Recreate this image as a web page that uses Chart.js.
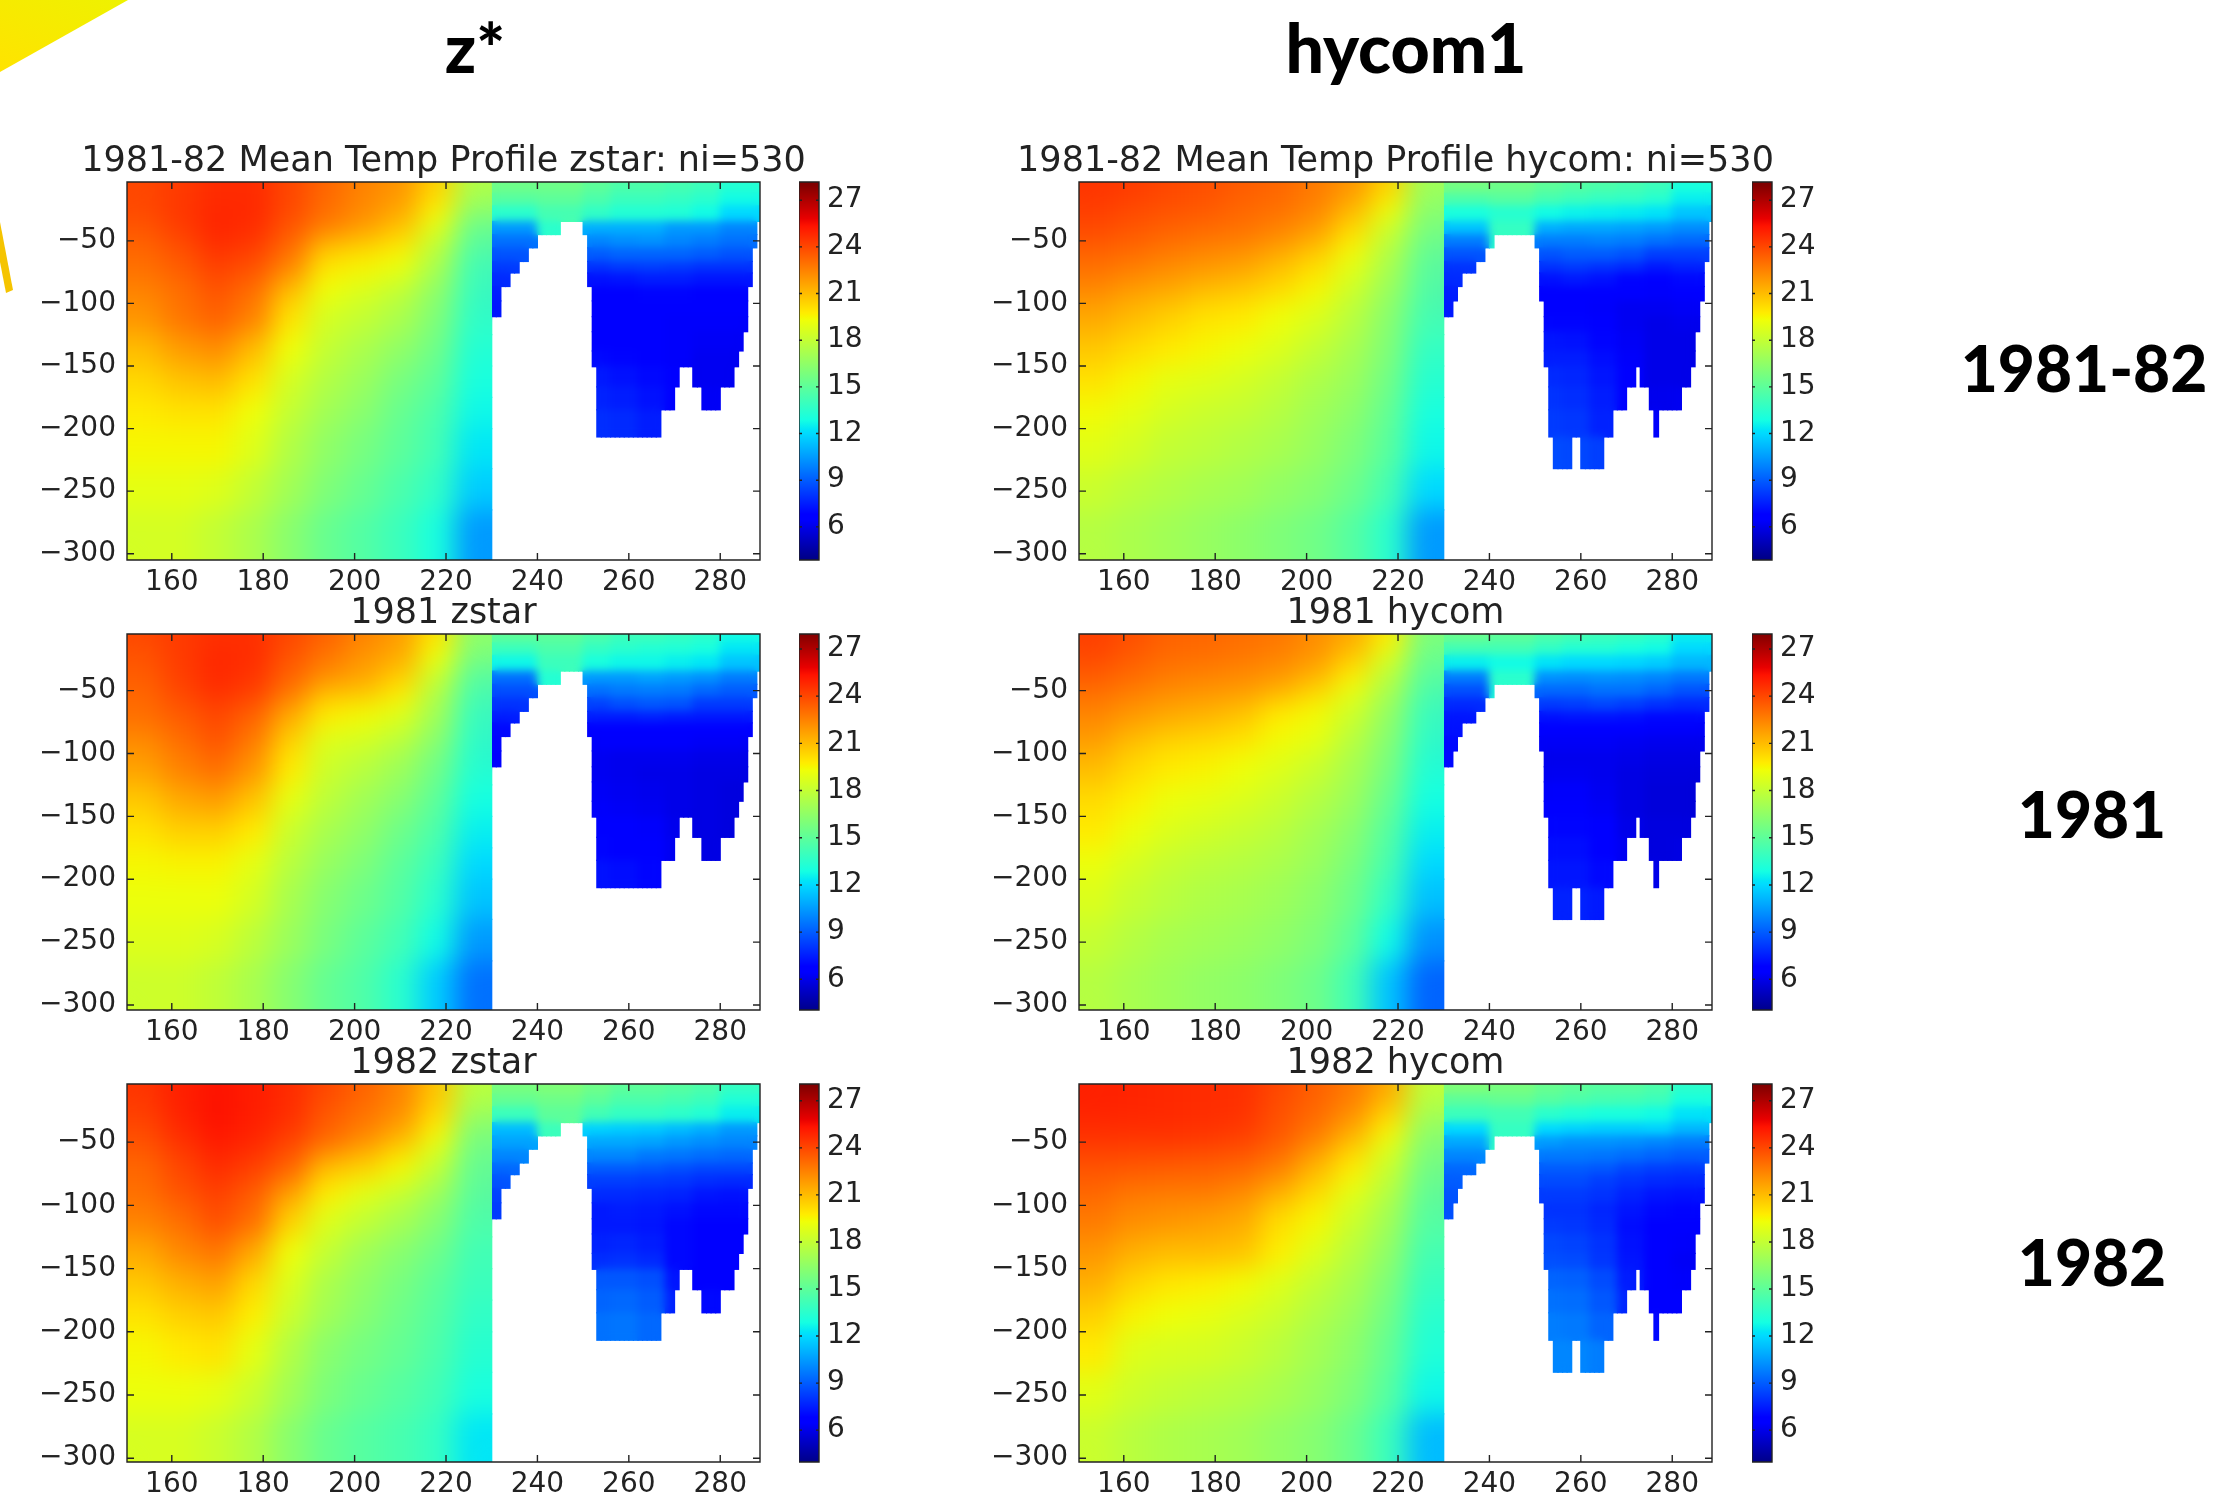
<!DOCTYPE html>
<html><head><meta charset="utf-8">
<style>
html,body{margin:0;padding:0;background:#fff;width:2218px;height:1498px;overflow:hidden}
canvas{position:absolute}
.big{position:absolute;font-family:Lato,sans-serif;font-weight:900;color:#000;line-height:1;transform:translateX(-50%);white-space:nowrap}
svg{position:absolute;left:0;top:0}
</style>
<script src="https://cdn.jsdelivr.net/npm/chart.js@4"></script>
</head><body>
<svg width="140" height="310"><defs><linearGradient id="sun" x1="1" y1="0" x2="0" y2="1"><stop offset="0" stop-color="#eef200"/><stop offset="1" stop-color="#ffe300"/></linearGradient></defs><polygon points="0,0 128,0 0,72" fill="url(#sun)"/><polygon points="0,222 13,290 6,293 0,262" fill="#f5c400"/></svg>
<div class="big" style="left:475px;top:13px;font-size:68px">z*</div>
<div class="big" style="left:1406px;top:13px;font-size:68px">hycom1</div>
<div class="big" style="left:2084px;top:336px;font-size:64px">1981-82</div>
<div class="big" style="left:2092px;top:782px;font-size:64px">1981</div>
<div class="big" style="left:2092px;top:1230px;font-size:64px">1982</div>
<script>
const _ = null;
const xTicks = [160,180,200,220,240,260,280];
const yTicks = [-50,-100,-150,-200,-250,-300];
const colorbarTicks = [6,9,12,15,18,21,24,27];
const panelTitles = [
  '1981-82 Mean Temp Profile zstar: ni=530','1981-82 Mean Temp Profile hycom: ni=530',
  '1981 zstar','1981 hycom','1982 zstar','1982 hycom'];

const westLon = [154,162,170,178,186,194,202,210,218,226];
const westDepthEdges = [0,-15,-30,-45,-60,-80,-100,-125,-150,-175,-200,-232,-265,-310];
const eastLon = [230.5,231.5,232.5,233.5,234.5,235.5,236.5,237.5,238.5,239.5,240.5,241.5,242.5,243.5,244.5,245.5,246.5,247.5,248.5,249.5,250.5,251.5,252.5,253.5,254.5,255.5,256.5,257.5,258.5,259.5,260.5,261.5,262.5,263.5,264.5,265.5,266.5,267.5,268.5,269.5,270.5,271.5,272.5,273.5,274.5,275.5,276.5,277.5,278.5,279.5,280.5,281.5,282.5,283.5,284.5,285.5,286.5,287.5,288.5];
const eastDepthEdges = [0,-12,-22,-34.5,-45,-55.6,-66.5,-75.7,-86.5,-98,-110.6,-122.6,-138,-150.6,-166.7,-185,-206.7,-232];
const eastGroupStart = [230,240,250,256,262,268,274,280];
const bottomZstar = [-110.6,-110.6,-86.5,-86.5,-75.7,-75.7,-66.5,-66.5,-55.6,-55.6,-45,-45,-45,-45,-45,-34.5,-34.5,-34.5,-34.5,-34.5,-45,-86.5,-150.6,-206.7,-206.7,-206.7,-206.7,-206.7,-206.7,-206.7,-206.7,-206.7,-206.7,-206.7,-206.7,-206.7,-206.7,-185,-185,-185,-166.7,-150.6,-150.6,-150.6,-166.7,-166.7,-185,-185,-185,-185,-166.7,-166.7,-166.7,-150.6,-138,-122.6,-86.5,-55.6,-34.5];
const bottomHycom = [-110.6,-110.6,-98,-86.5,-75.7,-75.7,-75.7,-66.5,-66.5,-55.6,-55.6,-45,-45,-45,-45,-45,-45,-45,-45,-45,-55.6,-98,-150.6,-206.7,-232,-232,-232,-232,-206.7,-206.7,-232,-232,-232,-232,-232,-206.7,-206.7,-185,-185,-185,-166.7,-166.7,-150.6,-166.7,-166.7,-185,-206.7,-185,-185,-185,-185,-185,-166.7,-166.7,-150.6,-122.6,-98,-66.5,-34.5];

const westZstarMean = [
[24,24.3,24.7,24.7,24,23.2,22.5,22,20.5,17.5],
[24,24.4,24.8,24.8,24,23,22.3,21.7,19.8,16.8],
[23.7,24.3,24.9,24.7,23.7,22.8,22,21,19,15.5],
[23.3,23.9,24.7,24.4,23.2,21.2,20.7,20,18,15],
[23,23.5,24.2,23.8,22.5,20,19.6,19.2,17.3,14.3],
[22.5,23,23.7,23,21,19.3,18.7,18,16.5,14],
[22,22.8,23.3,22.5,20,18.5,18,17.3,16,13.7],
[21,21.8,22.2,21,19.3,18,17.3,16.5,15.5,13.3],
[20.3,20.8,21,20,18.5,17.5,16.8,15.8,15,13],
[19.8,20,20,19.3,18,17,16.3,15.3,14.5,12.7],
[19.5,19.5,19.5,18.8,17.5,16.5,15.8,15,14.2,12.3],
[19,19,18.8,18,17,16,15.3,14.5,13.7,11.7],
[18.5,18.5,18,17.3,16.3,15.3,14.7,14,13,10.5]];
const westZstar1981 = [
[24,24.3,24.6,24.6,24,23.3,22.5,21.8,20,16.5],
[23.7,24.3,24.8,24.7,23.7,22.8,22,21.5,19.3,16],
[23.5,24.2,24.8,24.5,23.3,22.3,21.7,20.7,18.3,15],
[23.2,24,24.6,24.2,22.8,21,20.8,19.8,17.5,14.5],
[23,23.5,24,23.3,21.5,19.8,19.4,18.8,17,14],
[22.3,23,23.7,22.7,20.5,18.8,18.5,17.8,16.3,13.7],
[21.7,22.5,23,22,19.8,18.3,17.7,16.9,15.6,13.4],
[20.7,21.5,21.8,20.8,19,17.8,17,16.2,15,12.9],
[20,20.5,20.5,19.8,18.2,17.2,16.5,15.5,14.5,12.5],
[19.5,19.6,19.6,19,17.7,16.7,16,15,14,12],
[19.2,19.2,19.2,18.5,17.2,16.2,15.5,14.7,13.5,11.5],
[18.8,18.8,18.6,17.8,16.8,15.8,15,14.2,12.8,10.5],
[18.3,18.3,17.9,17.2,16.2,15.2,14.6,13.5,11.7,9.5]];
const westZstar1982 = [
[24.5,25,25.3,25.1,24.7,24,23.3,22.5,20.8,17.8],
[24.3,25,25.4,25.1,24.7,23.7,23,22.3,20.5,17.3],
[24,24.8,25.3,25,24.5,23.4,22.7,21.8,19.8,16.3],
[23.7,24.5,25.1,24.8,24,23,22,20.8,19,15.8],
[23.2,24,24.7,24.2,23.3,21,20.5,19.5,18,15.3],
[23,23.7,24.2,23.5,21.8,19.8,19,18.2,17,15],
[22.5,23,23.8,23,20.5,18.8,18,17.2,16.2,14.6],
[21.5,22.3,22.8,21.5,19.3,18,17,16.3,15.5,14.2],
[20.7,21.3,21.7,20.3,18.7,17.3,16.5,15.8,15,14],
[20,20.5,20.7,19.7,18.2,17,16.2,15.5,14.8,13.7],
[19.5,19.8,20,19,17.5,16.3,15.7,15.2,14.5,13.4],
[19.2,19.2,19,18.2,17,15.9,15.3,14.8,14.2,13],
[18.6,18.6,18.2,17.5,16.3,15.3,14.8,14.4,13.8,12.3]];
const westHycomMean = [
[24.5,24.3,24,23.8,23.5,23.2,22.7,22,20.5,17],
[24.3,24,23.8,23.6,23.2,23,22.5,21.3,19.5,16.5],
[24,23.7,23.4,23.2,23,22.6,22,20.5,18.5,16],
[23.6,23.3,23,22.7,22.5,22,21.2,19.7,17.8,15.5],
[23,22.7,22.3,22,21.7,21,20.2,19,17.3,15],
[22.3,21.8,21.5,21,20.7,20.2,19.5,18.3,16.8,14.7],
[21.5,21,20.5,20,19.8,19.3,18.7,17.7,16.3,14.3],
[20.7,20.2,19.8,19.5,19.2,18.7,18,17.2,16,13.8],
[20,19.5,19,18.8,18.5,18,17.4,16.8,15.6,13.4],
[19.4,19,18.5,18.2,18,17.6,17,16.4,15.2,13],
[18.9,18.5,18,17.8,17.5,17.2,16.7,16,14.9,12.7],
[18.2,17.8,17.5,17.2,17,16.6,16.2,15.5,14.3,12],
[17.6,17.3,17,16.7,16.4,16,15.6,14.8,13.5,10.5]];
const westHycom1981 = [
[24.2,23.8,23.3,23.2,23,22.8,22.2,21.5,19.8,16],
[24,23.5,23.1,23,22.8,22.5,22,20.8,18.8,15.5],
[23.5,23.1,22.7,22.5,22.3,22,21.3,19.8,17.8,15],
[23,22.6,22.2,22,21.8,21.2,20.3,19,17.2,14.5],
[22.4,21.9,21.5,21.2,20.8,19.8,19.4,18.3,16.6,14],
[21.8,21,20.5,20.3,20,19.4,19,17.7,16.2,13.7],
[21,20.3,19.8,19.6,19.3,18.8,18.2,17.2,15.8,13.3],
[20.2,19.7,19.2,19,18.7,18.2,17.6,16.8,15.3,12.9],
[19.8,19.2,18.7,18.4,18.1,17.7,17.1,16.3,14.8,12.5],
[19.2,18.6,18.1,17.8,17.6,17.3,16.8,15.9,14.4,12],
[18.7,18.1,17.7,17.4,17.2,16.9,16.4,15.5,13.8,11.4],
[18.1,17.6,17.2,17,16.8,16.5,16,15,12.8,10.3],
[17.6,17.2,16.9,16.6,16.4,16,15.5,14.2,11.5,9.2]];
const westHycom1982 = [
[25,24.9,24.8,24.7,24.6,24,23.4,22.7,21.5,18],
[25,24.9,24.8,24.7,24.6,23.8,23.2,22.4,20.8,17.5],
[24.7,24.7,24.7,24.6,24.4,23.7,22.9,21.7,19.8,16.7],
[24.4,24.3,24.3,24.2,24,23.4,22.3,20.8,19,16.2],
[23.7,23.6,23.5,23.4,23.2,22.6,21.2,19.8,18.2,15.7],
[23.2,22.8,22.7,22.7,22.3,21.4,20.3,19,17.6,15.2],
[22.7,22.2,22,21.8,21.5,20.2,19.5,18.3,17,14.8],
[22,21.3,21,21,20.8,19.7,18.8,17.7,16.5,14.3],
[21.3,20.4,19.9,19.7,19.4,18.8,18,17.2,16,13.9],
[20.5,19.6,19.3,19.1,18.7,18.2,17.5,16.8,15.6,13.5],
[19.8,18.8,18.6,18.5,18.2,17.7,17.1,16.4,15.2,13.2],
[18.9,18.3,18,17.8,17.6,17.2,16.7,16,14.8,12.7],
[18.2,17.7,17.4,17.2,17,16.6,16.2,15.4,14,11.3]];

const eastZstarMean = [
[15.5,15.5,15,14.5,14.5,14.3,14,13.3],
[14.8,15,14.5,14,14,13.8,13.5,12.8],
[13.5,14.3,13.7,13.3,13.3,13.2,12.8,12],
[10.5,13.5,11,11,11,10.5,10.5,10],
[9.5,13,10,10.2,10.3,10,9.8,9.5],
[8.8,_,9,9.2,9.2,9.2,9,8.8],
[8.2,_,8,8.2,8.3,8.2,8,8],
[7.8,_,7.2,7.3,7.5,7.5,7.3,7.3],
[7.5,_,6.8,6.8,6.9,6.9,6.8,6.8],
[7.3,_,6.6,6.5,6.6,6.5,6.5,6.5],
[_,_,6.6,6.5,6.5,6.4,6.4,6.4],
[_,_,6.8,6.7,6.6,6.4,6.3,6.3],
[_,_,7,6.9,6.7,6.4,6.2,6.2],
[_,_,7.4,7.2,7,6.6,6.2,6.2],
[_,_,7.6,7.5,7.2,6.8,6.3,6.3],
[_,_,7.9,7.8,7.5,_,_,_]];
const eastZstar1981 = [
[15,15,14.5,14,14,13.8,13.5,12.8],
[14,14.5,13.8,13.5,13.3,13.2,13,12.3],
[12.7,14,13,12.7,12.7,12.5,12.3,11.5],
[9.5,13.3,10.5,10.5,10.7,10.5,10.3,9.8],
[8.7,12.8,9.5,9.7,9.8,9.7,9.3,9],
[8,_,8.4,8.7,8.9,8.8,8.2,8.2],
[7.5,_,7.5,7.5,7.6,7.5,7.4,7.4],
[7,_,6.8,6.8,6.8,6.8,6.7,6.7],
[6.9,_,6.4,6.4,6.4,6.4,6.3,6.3],
[6.8,_,6.2,6.1,6.1,6.1,6,6],
[_,_,6.2,6.1,6,6,5.9,5.9],
[_,_,6.3,6.2,6.1,6,5.9,5.8],
[_,_,6.4,6.3,6.2,6,5.9,5.8],
[_,_,6.7,6.6,6.4,6.1,5.9,5.8],
[_,_,6.9,6.8,6.6,6.2,5.9,5.9],
[_,_,7.2,7.1,6.9,_,_,_]];
const eastZstar1982 = [
[15.8,16,15.5,15,15,14.8,14.5,13.8],
[15.2,15.5,15,14.5,14.5,14.3,14,13.2],
[14,15,14.2,13.8,13.8,13.6,13.3,12.5],
[11.3,14,11.8,11.7,11.6,11.3,11,10.5],
[10.7,13.5,10.8,10.8,10.7,10.4,10.2,10],
[10,_,10,10,9.7,9.6,9.4,9.3],
[9.3,_,9,9,8.9,8.7,8.5,8.5],
[8.8,_,8.3,8.3,8.2,8.1,7.9,7.8],
[8.4,_,7.8,7.8,7.7,7.6,7.3,7.2],
[8.2,_,7.4,7.5,7.4,7.2,7,7],
[_,_,7.4,7.4,7.3,7,6.8,6.7],
[_,_,7.6,7.7,7.5,7,6.7,6.6],
[_,_,7.9,8,7.8,7,6.6,6.5],
[_,_,8.9,8.9,8.7,7.3,6.8,6.6],
[_,_,9.2,9.3,9,7.6,7,6.8],
[_,_,9.5,9.6,9.3,_,_,_]];
const eastHycomMean = [
[15.7,15.5,15,14.7,14.5,14.3,14,13],
[14.5,14.8,14.3,14,13.8,13.7,13.4,12.5],
[13,13.4,12.8,12.6,12.5,12.4,12.2,11.5],
[11.5,13.8,11,10.8,10.8,10.7,10.5,10.2],
[9.8,13.5,9.8,9.8,9.9,9.8,9.5,9.3],
[8.8,_,8.8,9,9,8.8,8.3,8.3],
[8,_,8,8.2,8,7.8,7.4,7.6],
[7.8,_,7.2,7.4,7.2,6.9,6.7,7],
[7.5,_,6.8,6.8,6.7,6.5,6.4,6.5],
[7.4,_,6.6,6.6,6.4,6.2,6.2,6.3],
[_,_,6.9,6.9,6.6,6.2,6,6.1],
[_,_,7.3,7.2,6.9,6.3,6,6],
[_,_,7.5,7.5,7.1,6.4,6,6],
[_,_,7.8,7.7,7.3,6.6,6,6],
[_,_,8,7.9,7.5,6.8,6.1,6.2],
[_,_,8.2,8.1,7.6,_,6.4,_],
[_,_,8.6,8.5,8.3,_,_,_]];
const eastHycom1981 = [
[15.3,15,14.5,14.2,14,13.8,13.5,12.5],
[14.2,14.2,13.7,13.3,13.3,13,12.8,12],
[12.5,12.8,12.2,12,12,11.9,11.7,11.2],
[9.8,13.5,10.3,10.2,10.3,10.2,10,9.7],
[8.7,13.2,9.3,9.3,9.5,9.5,9.2,8.8],
[7.8,_,8.2,8.3,8.5,8.3,8,7.8],
[7.3,_,7.2,7.3,7.3,7.2,7,7],
[7.2,_,6.7,6.7,6.7,6.5,6.4,6.4],
[7,_,6.3,6.3,6.3,6.2,6.1,6.1],
[7,_,6.1,6.1,6.1,6,5.9,5.9],
[_,_,6.2,6.2,6.1,5.9,5.8,5.8],
[_,_,6.4,6.4,6.2,5.9,5.7,5.7],
[_,_,6.6,6.6,6.3,5.9,5.7,5.7],
[_,_,6.9,6.9,6.6,6,5.8,5.8],
[_,_,7.1,7.1,6.8,6.2,5.8,5.9],
[_,_,7.3,7.3,7,_,6,_],
[_,_,7.6,7.6,7.4,_,_,_]];
const eastHycom1982 = [
[16,15.8,15.3,15,14.8,14.8,14.5,13.5],
[15,15.2,14.8,14.5,14.3,14.2,14,13],
[14,14.2,13.5,13.2,13,13,12.8,12.2],
[12,13.8,12,11.8,11.7,11.7,11.8,11.2],
[10.8,13.7,10.5,10.3,10.3,10.2,10,9.8],
[10,_,9.7,9.7,9.6,9.4,9.2,9],
[9.3,_,9,9,8.9,8.5,8.3,8.2],
[9,_,8.6,8.6,8.3,8,7.8,7.7],
[8.8,_,8.2,8.2,8,7.6,7.3,7.2],
[8.7,_,8,8,7.7,7.3,7,6.9],
[_,_,8.2,8.1,7.8,7.1,6.7,6.6],
[_,_,8.5,8.4,8,7.2,6.5,6.4],
[_,_,8.7,8.6,8.1,7.3,6.5,6.3],
[_,_,9.2,9.1,8.6,7.5,6.5,6.4],
[_,_,9.5,9.4,8.9,7.7,6.7,6.5],
[_,_,9.8,9.7,9.2,_,7,_],
[_,_,10,10,9.8,_,_,_]];

const panelWest = [westZstarMean,westHycomMean,westZstar1981,westHycom1981,westZstar1982,westHycom1982];
const panelEast = [eastZstarMean,eastHycomMean,eastZstar1981,eastHycom1981,eastZstar1982,eastHycom1982];

/* ---------- layout (pixels) ---------- */
const plotLeft = [127,1079], plotWidth = 633, barLeft = [799,1752], barWidth = 20;
const rows = [
  {top:182,bottom:560,yMin:-305,yMax:-3,cMin:3.87,cMax:28.17},
  {top:634,bottom:1010,yMin:-304,yMax:-5,cMin:4.05,cMax:27.95},
  {top:1084,bottom:1462,yMin:-303,yMax:-4,cMin:3.97,cMax:28.07}];
const xMin = 150.2, xMax = 288.7, vMin = 3.8, vMax = 28;
const marginL = 120, titleH = 46, axisH = 36, barPad = 24;
const ink = '#222';
const tickFont = {family:'"DejaVu Sans"',size:28};

/* matplotlib "jet" colour table */
const jetRed   = [[0,0],[.35,0],[.66,1],[.89,1],[1,.5]];
const jetGreen = [[0,0],[.125,0],[.375,1],[.64,1],[.91,0],[1,0]];
const jetBlue  = [[0,.5],[.11,1],[.34,1],[.65,0],[1,0]];
function lut(tb,t){
  for(let i=1;i<tb.length;i++) if(t<=tb[i][0]){const [a,u]=tb[i-1],[b,v]=tb[i];return u+(v-u)*(t-a)/(b-a);}
  return tb[tb.length-1][1];
}
function jet(t){
  t = Math.max(0,Math.min(1,t));
  return `rgb(${Math.round(lut(jetRed,t)*255)},${Math.round(lut(jetGreen,t)*255)},${Math.round(lut(jetBlue,t)*255)})`;
}
const tempColor = v => jet((v-vMin)/(vMax-vMin));
const minusLabel = v => String(v).replace('-','\u2212');

function smoothRegion(chart,x0,x1,radius,padEdges){
  const a = chart.chartArea, ctx = chart.ctx, w = Math.round(x1-x0), h = Math.round(a.bottom-a.top);
  const p = padEdges ? radius*3 : 0;
  const src = document.createElement('canvas'); src.width = w+2*p; src.height = h+2*p;
  const s = src.getContext('2d');
  const cv = chart.canvas, X = Math.round(x0), Y = Math.round(a.top);
  if(padEdges){
    s.drawImage(cv,X+2,Y,1,h,0,p,p,h);
    s.drawImage(cv,X+w-3,Y,1,h,p+w,p,p,h);
    s.drawImage(cv,X,Y+2,w,1,p,0,w,p);
    s.drawImage(cv,X,Y+h-3,w,1,p,p+h,w,p);
  }
  s.drawImage(cv,X,Y,w,h,p,p,w,h);
  ctx.save();
  ctx.beginPath(); ctx.rect(X,Y,w,h); ctx.clip();
  ctx.globalCompositeOperation = 'source-atop';
  ctx.filter = `blur(${radius}px)`;
  ctx.drawImage(src,X-p,Y-p);
  ctx.restore();
}
const fieldSmoother = {id:'fieldSmoother',afterDatasetsDraw(chart){
  const xs = chart.scales.x, a = chart.chartArea, split = xs.getPixelForValue(230);
  smoothRegion(chart,split,a.right,4,false);
  smoothRegion(chart,a.left,split,13,true);
}};
const frame = {id:'frame',afterDraw(chart){
  const {ctx,chartArea:a,scales:{x,y}} = chart, len = chart.options.plugins.frame.len;
  ctx.save(); ctx.strokeStyle = ink; ctx.lineWidth = 1.4;
  ctx.beginPath();
  if(x.options.display !== false) x.ticks.forEach(t=>{const p=x.getPixelForValue(t.value);ctx.moveTo(p,a.top);ctx.lineTo(p,a.top+len);ctx.moveTo(p,a.bottom);ctx.lineTo(p,a.bottom-len);});
  y.ticks.forEach(t=>{const p=y.getPixelForValue(t.value);ctx.moveTo(a.left,p);ctx.lineTo(a.left+len,p);ctx.moveTo(a.right,p);ctx.lineTo(a.right-len,p);});
  ctx.rect(a.left,a.top,a.right-a.left,a.bottom-a.top);
  ctx.stroke(); ctx.restore();
}};

function addCanvas(left,top,w,h){
  const c = document.createElement('canvas');
  c.width = w; c.height = h; c.style.left = left+'px'; c.style.top = top+'px';
  c.style.width = w+'px'; c.style.height = h+'px';
  document.body.appendChild(c); return c;
}
function westCells(table){
  const out = [];
  table.forEach((row,r)=>row.forEach((v,c)=>out.push({x:westLon[c],y:[westDepthEdges[r+1],westDepthEdges[r]],t:v})));
  return out;
}
function eastCells(table,bottom){
  const out = [];
  eastLon.forEach((lon,i)=>{
    let g = 0; eastGroupStart.forEach((s,k)=>{if(lon>=s) g=k;});
    for(let r=0;r<eastDepthEdges.length-1;r++){
      if(eastDepthEdges[r+1] < bottom[i]) break;
      const v = table[r] ? table[r][g] : null;
      if(v===null || v===undefined) continue;
      out.push({x:lon,y:[eastDepthEdges[r+1],eastDepthEdges[r]],t:v});
    }
  });
  return out;
}
function drawPanel(idx){
  const col = idx%2, row = rows[(idx-col)/2];
  const h = row.bottom-row.top;
  const c = addCanvas(plotLeft[col]-marginL,row.top-titleH,plotWidth+2*marginL,titleH+h+axisH);
  const pxPerDeg = plotWidth/(xMax-xMin);
  const w = westCells(panelWest[idx]), e = eastCells(panelEast[idx],col===0?bottomZstar:bottomHycom);
  new Chart(c,{type:'bar',
    data:{datasets:[
      {data:e,stack:'f',backgroundColor:e.map(d=>tempColor(d.t)),barThickness:pxPerDeg,inflateAmount:0.6,borderWidth:0},
      {data:w,stack:'f',backgroundColor:w.map(d=>tempColor(d.t)),barThickness:8*pxPerDeg,inflateAmount:0.6,borderWidth:0}
    ]},
    plugins:[fieldSmoother,frame],
    options:{responsive:false,animation:false,devicePixelRatio:1,
      layout:{padding:0},
      plugins:{legend:{display:false},tooltip:{enabled:false},frame:{len:7},
        title:{display:true,text:panelTitles[idx],color:ink,align:'center',
          font:{family:'"DejaVu Sans"',size:35,weight:'normal',lineHeight:1},padding:{top:8,bottom:3}}},
      scales:{
        x:{type:'linear',offset:false,min:xMin,max:xMax,grid:{display:false,drawTicks:false,offset:false},border:{display:false},
          afterBuildTicks:s=>{s.ticks=xTicks.map(v=>({value:v}));},
          afterFit:s=>{s.height=axisH;s.paddingLeft=0;s.paddingRight=0;},
          ticks:{color:ink,font:tickFont,padding:6,maxRotation:0,autoSkip:false}},
        y:{type:'linear',stacked:false,min:row.yMin,max:row.yMax,grid:{display:false,drawTicks:false},border:{display:false},
          afterBuildTicks:s=>{s.ticks=yTicks.map(v=>({value:v}));},
          afterFit:s=>{s.width=marginL;s.paddingTop=0;s.paddingBottom=0;},
          ticks:{color:ink,font:tickFont,padding:11,autoSkip:false,callback:minusLabel}},
        spacer:{type:'linear',position:'right',display:true,grid:{display:false,drawTicks:false},border:{display:false},
          ticks:{display:false},
          afterFit:s=>{s.width=marginL;s.paddingTop=0;s.paddingBottom=0;}}
      }}});
}
function drawColorbar(idx){
  const col = idx%2, row = rows[(idx-col)/2];
  const c = addCanvas(barLeft[col],row.top-barPad,barWidth+70,row.bottom-row.top+2*barPad);
  new Chart(c,{type:'bar',
    data:{labels:['T'],datasets:[{data:[[row.cMin,row.cMax]],barPercentage:1,categoryPercentage:1,borderWidth:0,
      backgroundColor(ctx){
        const a = ctx.chart.chartArea; if(!a) return '#000';
        const ys = ctx.chart.scales.y, g = ctx.chart.ctx.createLinearGradient(0,ys.getPixelForValue(vMin),0,ys.getPixelForValue(vMax));
        [0,.11,.125,.2,.3,.34,.35,.375,.45,.5,.55,.64,.65,.66,.7,.75,.8,.89,.91,.95,1].forEach(s=>g.addColorStop(s,jet(s)));
        return g;
      }}]},
    plugins:[frame],
    options:{responsive:false,animation:false,devicePixelRatio:1,
      layout:{padding:{top:barPad,bottom:barPad,left:0,right:0}},
      plugins:{legend:{display:false},tooltip:{enabled:false},frame:{len:3}},
      scales:{
        x:{display:false},
        y:{type:'linear',position:'right',min:row.cMin,max:row.cMax,grid:{display:false,drawTicks:false},border:{display:false},
          afterBuildTicks:s=>{s.ticks=colorbarTicks.map(v=>({value:v}));},
          afterFit:s=>{s.width=70;s.paddingTop=0;s.paddingBottom=0;},
          ticks:{color:ink,font:tickFont,padding:8,autoSkip:false}}
      }}});
}
panelTitles.forEach((t,i)=>{drawPanel(i);drawColorbar(i);});
</script>
</body></html>
